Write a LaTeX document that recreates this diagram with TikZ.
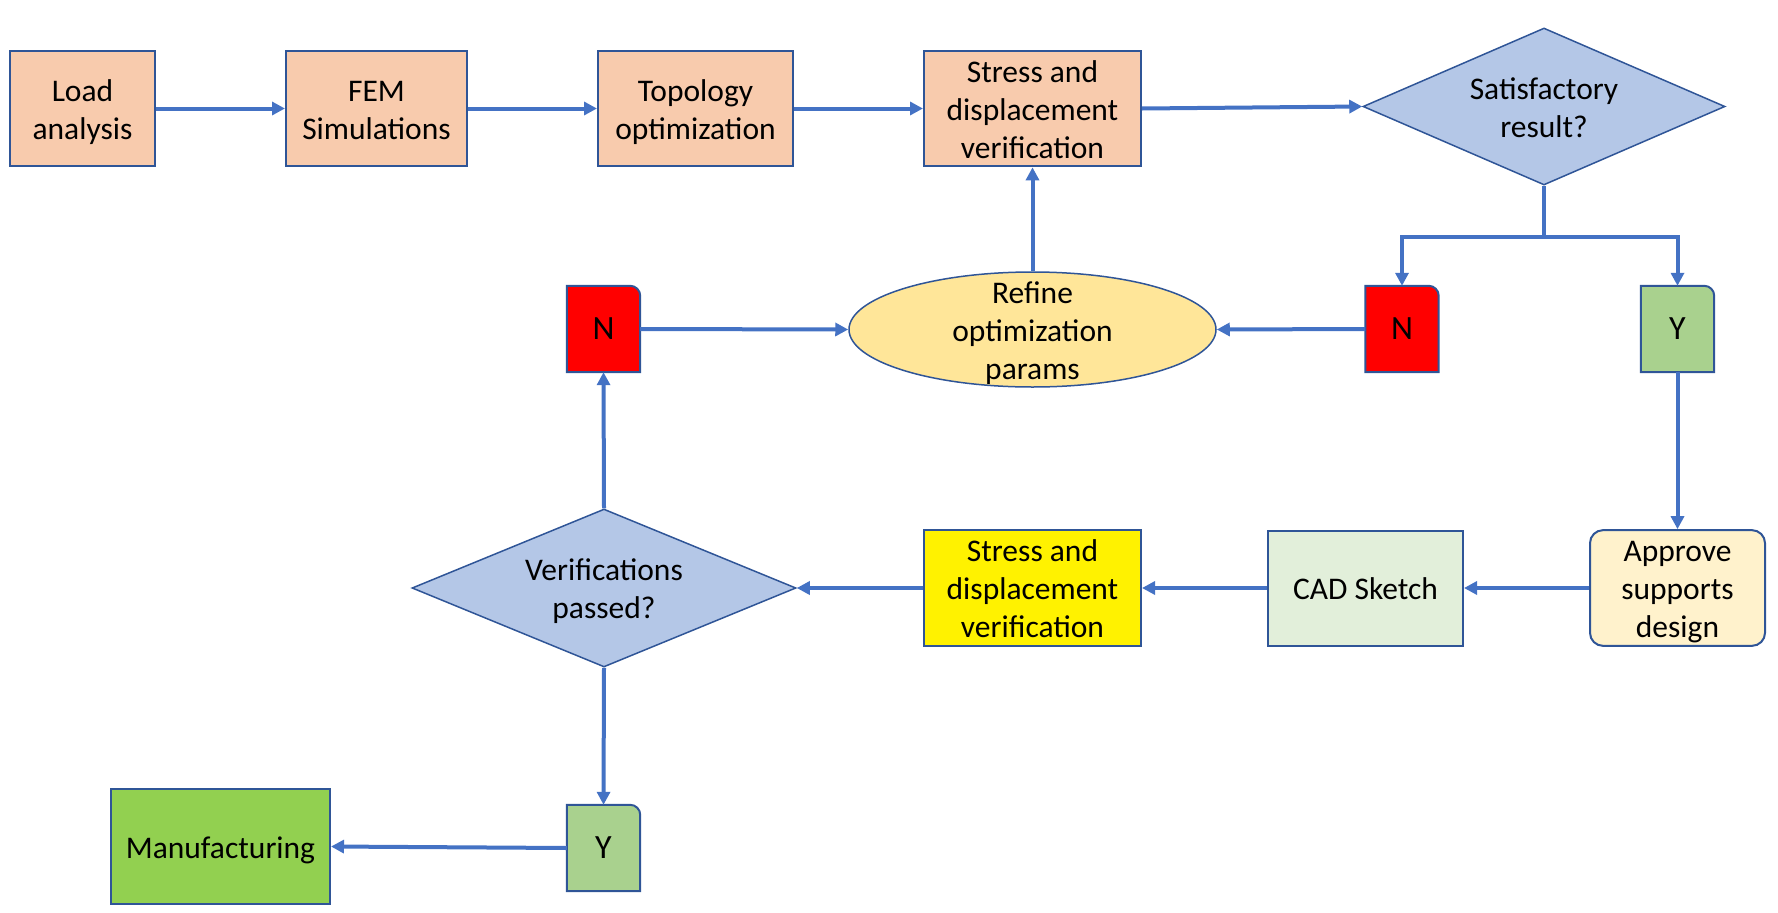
\documentclass[tikz,border=0pt]{standalone}
\usepackage{fontspec}
\setmainfont{Carlito}
\usetikzlibrary{shapes.geometric,arrows.meta,backgrounds}
\definecolor{peach}{HTML}{F8CBAD}
\definecolor{bord}{HTML}{2F5597}
\definecolor{arrc}{HTML}{4472C4}
\definecolor{dia}{HTML}{B4C7E7}
\definecolor{ngreen}{HTML}{A9D18E}
\definecolor{refy}{HTML}{FFE699}
\definecolor{appy}{HTML}{FFF2CC}
\definecolor{cadg}{HTML}{E2EFDA}
\definecolor{mang}{HTML}{92D050}
\newcommand\hst{\vrule width 0pt height 1.0em depth 0pt\relax}
\newcommand\dst{\vrule width 0pt height 0pt depth 0.26em\relax}
\newcommand\tagshape[2]{\path[fill=#2, draw=bord, line width=2pt] (#1.south west) -- (#1.north west) -- ([xshift=-10pt]#1.north east) .. controls ([xshift=-4.5pt]#1.north east) and ([yshift=-4.5pt]#1.north east) .. ([yshift=-10pt]#1.north east) -- (#1.south east) -- cycle;}
\begin{document}
\begin{tikzpicture}[x=1pt,y=-1pt,
 txt/.style={font=\fontsize{31.5}{38}\selectfont, align=center, inner sep=0pt, text=black},
 box/.style={txt, draw=bord, line width=2pt, minimum height=115pt},
 dec/.style={txt, diamond, draw=bord, line width=1.5pt, fill=dia},
 tag/.style={txt, font=\fontsize{34}{40}\selectfont, minimum width=73pt, minimum height=86pt},
 arr/.style={draw=arrc, line width=4pt, -{Triangle[length=13pt,width=13pt]}},
]
\useasboundingbox (0,0) rectangle (1778,913);
% top row
\node[box, fill=peach, minimum width=145pt] (load) at (82.5,108.5) {\hst Load\\analysis\dst};
\node[box, fill=peach, minimum width=181pt] (fem) at (376.5,108.5) {\hst FEM\\Simulations\dst};
\node[box, fill=peach, minimum width=195pt] (topo) at (695.5,108.5) {\hst Topology\\optimization\dst};
\node[box, fill=peach, minimum width=217pt] (st) at (1032.5,108.5) {\hst Stress and\\displacement\\verification\dst};
\node[dec, shape aspect=2.3, minimum width=362pt, minimum height=157pt] (sat) at (1544,106.5) {\hst Satisfactory\\result?\dst};
% middle row
\node[tag] (nl) at (603.5,329) {N};
\node[txt, ellipse, draw=bord, line width=1.5pt, fill=refy, inner xsep=0pt, inner ysep=-20pt, minimum width=367pt, minimum height=115pt] (ref) at (1032.5,329.5) {\hst Refine\\optimization\\params\dst};
\node[tag] (nr) at (1402,329) {N};
\node[tag] (yr) at (1677.5,329) {Y};
% lower row
\node[dec, shape aspect=2.43, minimum width=384pt, minimum height=158pt] (ver) at (604,588) {\hst Verifications\\passed?\dst};
\node[box, fill=yellow, minimum width=217pt] (sy) at (1032.5,588) {\hst Stress and\\displacement\\verification\dst};
\node[box, fill=cadg, minimum width=195pt] (cad) at (1365.5,588) {\hst CAD Sketch\dst};
\node[box, fill=appy, rounded corners=13pt, minimum width=175pt] (app) at (1677.5,588) {\hst Approve\\supports\\design\dst};
% bottom row
\node[tag] (yb) at (603.5,848) {Y};
\node[box, fill=mang, minimum width=219pt] (man) at (220.5,846.5) {\hst Manufacturing\dst};
\begin{scope}[on background layer]
\tagshape{nl}{red}
\tagshape{nr}{red}
\tagshape{yr}{ngreen}
\tagshape{yb}{ngreen}
\end{scope}
% connectors
\draw[arr] (load) -- (fem);
\draw[arr] (fem) -- (topo);
\draw[arr] (topo) -- (st);
\draw[arr] (st.east) -- (sat.west);
\draw[arr] (sat.south) -- ++(0,51) -| (nr.north);
\draw[arr] (sat.south) -- ++(0,51) -| (yr.north);
\draw[arr] (nr.west) -- (ref.east);
\draw[arr] (nl.east) -- (ref.west);
\draw[arr] (ref.north) -- (st.south);
\draw[arr] (yr.south) -- (app.north);
\draw[arr] (app.west) -- (cad.east);
\draw[arr] (cad.west) -- (sy.east);
\draw[arr] (sy.west) -- (ver.east);
\draw[arr] (ver.north) -- (nl.south);
\draw[arr] (ver.south) -- (yb.north);
\draw[arr] (yb.west) -- (man.east);
\end{tikzpicture}
\end{document}
